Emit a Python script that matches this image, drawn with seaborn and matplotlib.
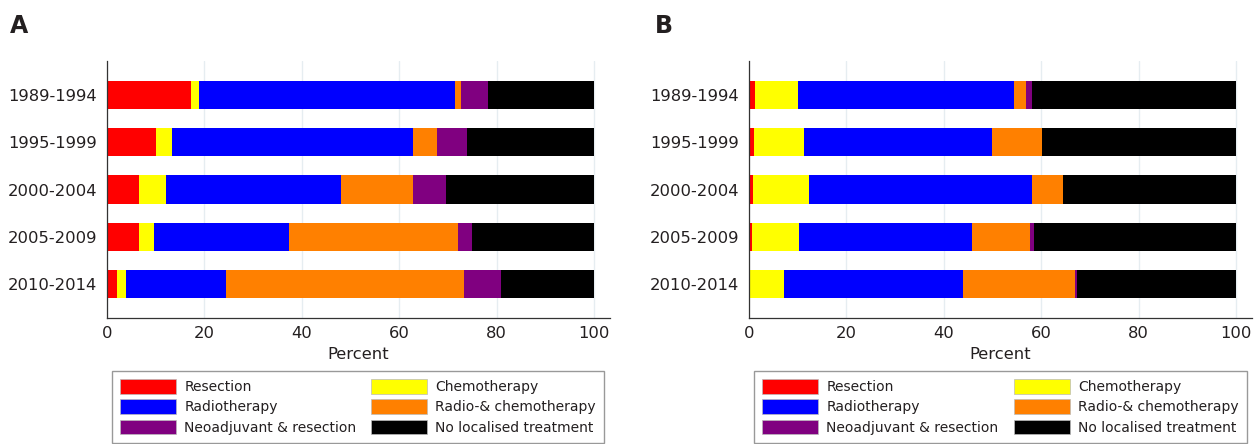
import matplotlib

matplotlib.use("Agg")
import matplotlib.pyplot as plt
import numpy as np
import pandas as pd
import seaborn as sns
from matplotlib.patches import Patch

periods = ["1989-1994", "1995-1999", "2000-2004", "2005-2009", "2010-2014"]
treatments = [
    "Resection",
    "Chemotherapy",
    "Radiotherapy",
    "Radio-& chemotherapy",
    "Neoadjuvant & resection",
    "No localised treatment",
]
colors = ["#ff0000", "#ffff00", "#0000ff", "#ff8000", "#800080", "#000000"]

# panel A, percent per period (order follows `treatments`)
a_resection = [17.2, 10.1, 6.6, 6.6, 2.0]
a_chemo = [1.6, 3.2, 5.5, 3.1, 1.8]
a_radio = [52.6, 49.5, 35.9, 27.7, 20.6]
a_radiochemo = [1.3, 4.9, 14.9, 34.7, 49.0]
a_neoadj = [5.6, 6.2, 6.8, 2.8, 7.5]
a_none = [21.7, 26.1, 30.3, 25.1, 19.1]

# panel B
b_resection = [1.2, 1.1, 0.9, 0.6, 0.0]
b_chemo = [8.8, 10.2, 11.5, 9.7, 7.2]
b_radio = [44.4, 38.6, 45.8, 35.5, 36.7]
b_radiochemo = [2.5, 10.2, 6.3, 11.9, 23.0]
b_neoadj = [1.2, 0.0, 0.0, 0.8, 0.5]
b_none = [41.9, 39.9, 35.5, 41.5, 32.6]

TEXT = "#231f20"

sns.set_style("white")
plt.rcParams["font.family"] = ["DejaVu Sans"]
plt.rcParams["text.color"] = TEXT
plt.rcParams["axes.labelcolor"] = TEXT
plt.rcParams["xtick.color"] = TEXT
plt.rcParams["ytick.color"] = TEXT


def long_frame(series):
    rows = []
    for name, vals in zip(treatments, series):
        for p, v in zip(periods, vals):
            rows.append({"period": p, "treatment": name, "percent": v})
    df = pd.DataFrame(rows)
    df["treatment"] = pd.Categorical(df["treatment"], treatments, ordered=True)
    df = df.sort_values(["period", "treatment"])
    df["cum"] = df.groupby("period")["percent"].cumsum()
    return df


def stacked(ax, df):
    # draw cumulative totals from the last segment back, each covering the previous
    for name, col in reversed(list(zip(treatments, colors))):
        sub = df[df["treatment"] == name]
        sns.barplot(
            data=sub, x="cum", y="period", order=periods, orient="h",
            color=col, width=0.6, saturation=1, linewidth=0, ax=ax,
        )
    ax.set_xlim(0, 103.3)
    ax.set_ylim(4.72, -0.72)
    ax.set_xticks(np.arange(0, 101, 20))
    ax.set_xlabel("Percent", fontsize=11.8, labelpad=4)
    ax.set_ylabel("")
    ax.xaxis.grid(True, color="#e6edf1", linewidth=1)
    ax.set_axisbelow(True)
    ax.tick_params(axis="x", direction="in", length=5, width=0.8, labelsize=11.8, pad=6)
    ax.tick_params(axis="y", length=0, labelsize=11.8, pad=7)
    for s in ("top", "right"):
        ax.spines[s].set_visible(False)
    for s in ("left", "bottom"):
        ax.spines[s].set_color("#333333")
        ax.spines[s].set_linewidth(0.9)


fig = plt.figure(figsize=(12.57, 4.44), dpi=100)
ax_a = fig.add_axes([107 / 1257, 1 - 318 / 444, 503 / 1257, 257 / 444])
ax_b = fig.add_axes([749 / 1257, 1 - 318 / 444, 503 / 1257, 257 / 444])

stacked(ax_a, long_frame([a_resection, a_chemo, a_radio, a_radiochemo, a_neoadj, a_none]))
stacked(ax_b, long_frame([b_resection, b_chemo, b_radio, b_radiochemo, b_neoadj, b_none]))

fig.text(10 / 1257, 1 - 33 / 444, "A", fontsize=17, fontweight="bold")
fig.text(655 / 1257, 1 - 33 / 444, "B", fontsize=17, fontweight="bold")

# legend goes column-first: left column then right column
leg_order = [0, 2, 4, 1, 3, 5]
handles = [Patch(facecolor=colors[i], edgecolor="#bbbbbb", linewidth=0.5) for i in leg_order]
labels = [treatments[i] for i in leg_order]
for ax, x0, x1 in ((ax_a, 112, 604), (ax_b, 754, 1247)):
    ax.legend(
        handles, labels, ncol=2, loc="lower left", mode="expand",
        bbox_to_anchor=(x0 / 1257, 1 / 444, (x1 - x0) / 1257, 74 / 444),
        bbox_transform=fig.transFigure, fancybox=False, edgecolor="#999999",
        framealpha=1, fontsize=10, handlelength=4.0, handleheight=1.25,
        handletextpad=0.6, labelspacing=0.38, borderpad=0.6, borderaxespad=0,
    )

fig.savefig("out.png", dpi=100)
